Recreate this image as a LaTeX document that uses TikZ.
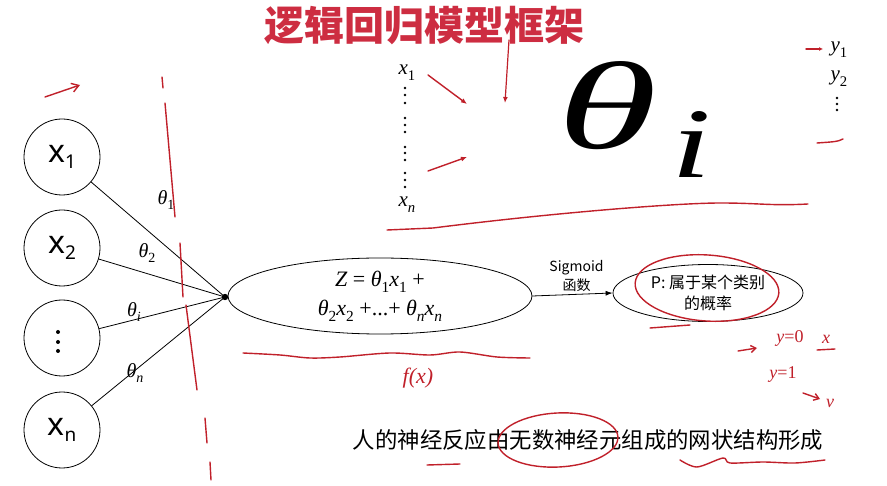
\documentclass[tikz,border=0pt]{standalone}
\usepackage{fontspec}
\setmainfont{Noto Sans}
\newfontfamily\cjk{Noto Sans CJK SC}
\newfontfamily\mf{Liberation Serif}
\usetikzlibrary{arrows.meta,shapes.geometric}
\definecolor{pen}{RGB}{192,32,42}
\definecolor{titlered}{RGB}{205,45,65}
\newcommand{\xsub}[2]{#1\raisebox{-6pt}{\fontsize{19}{19}\selectfont #2}}
\newcommand{\vi}[1]{{\mf\itshape #1}}
\newcommand{\lo}[1]{\raisebox{-0.28em}{\scalebox{0.7}{#1}}}
\begin{document}
\begin{tikzpicture}[x=1pt,y=-1pt,
  inp/.style={circle, draw, line width=0.8pt, minimum size=76pt, inner sep=0pt, font=\fontsize{32}{34}\selectfont},
  link/.style={line width=0.8pt},
  wlabel/.style={font=\mf\fontsize{20}{22}\selectfont, inner sep=1pt},
  zell/.style={ellipse, draw, line width=0.8pt, minimum width=304pt, minimum height=76pt, inner sep=0pt, align=center, font=\mf\fontsize{22}{29}\selectfont},
  pell/.style={ellipse, draw, line width=0.8pt, minimum width=190pt, minimum height=57pt, inner sep=0pt, align=center, font=\cjk\fontsize{16}{21}\selectfont},
  pen/.style={draw=pen, line width=1.4pt, line cap=round, line join=round},
  pentext/.style={text=pen, font=\mf\fontsize{18}{18}\selectfont, inner sep=0pt},
  mathlabel/.style={font=\mf\fontsize{21}{22}\selectfont, inner sep=0pt},
  bigglyph/.style={inner sep=0pt, font=\mf\itshape\fontsize{100}{100}\selectfont},
  dot/.style={circle, fill, inner sep=0pt, minimum size=2.8pt}
]
\useasboundingbox (0,0) rectangle (887,486);

% title
\node[font=\cjk\bfseries\fontsize{40}{40}\selectfont, text=titlered] (title) at (424,26) {逻辑回归模型框架};

% input circles
\node[inp] (c1) at (62,157) {\xsub{x}{1}};
\node[inp] (c2) at (62,248) {\xsub{x}{2}};
\node[inp] (c3) at (62,338) {};
\foreach \yy in {332,342,351}
  \node[dot, minimum size=4pt] at (58,\yy) {};
\node[inp] (c4) at (62,430) {\xsub{x}{n}};

\coordinate (hub) at (225,297);
\draw[link] (c1) -- (hub);
\draw[link] (c2) -- (hub);
\draw[link] (c3) -- (hub);
\draw[link] (c4) -- (hub);
\fill (hub) circle (3.2pt);

\node[wlabel] (t1) at (166,200) {\vi{θ}\lo{1}};
\node[wlabel] (t2) at (147,253) {\vi{θ}\lo{2}};
\node[wlabel] (ti) at (134,312) {\vi{θ}\lo{\vi{i}}};
\node[wlabel] (tn) at (135,373) {\vi{θ}\lo{\vi{n}}};

% Z ellipse
\node[zell] (z) at (380,296) {\vi{Z} = \vi{θ}\lo{1}\vi{x}\lo{1} +\\\vi{θ}\lo{2}\vi{x}\lo{2} +...+ \vi{θ}\lo{\vi{n}}\vi{x}\lo{\vi{n}}};
\node[pell] (p) at (708,293) {P: 属于某个类别\\的概率};
\draw[link, -{Latex[length=7pt,width=5pt]}] (z.east) -- (p.west)
  node[midway, above, align=center, inner sep=2pt, font=\cjk\fontsize{14}{19}\selectfont, xshift=4pt] (sig) {Sigmoid\\函数};

% x column
\node[mathlabel] (xa) at (407,73) {\vi{x}\lo{1}};
\node[mathlabel] (xb) at (407,205) {\vi{x}\lo{\vi{n}}};
\foreach \yy in {88,95,103,118,125,132,147,153,160,173,180,187}
  \node[dot, minimum size=2.6pt] at (405,\yy) {};

% big theta_i
\node[bigglyph] (bigt) at (607,106) {\resizebox{100pt}{87pt}{θ}};
\node[bigglyph] (bigi) at (691,145) {\resizebox{40pt}{66pt}{i}};

% y column
\node[mathlabel] (y1) at (839,50) {\vi{y}\lo{1}};
\node[mathlabel] (y2) at (839,79) {\vi{y}\lo{2}};
\foreach \yy in {98,104,110}
  \node[dot, minimum size=2.6pt] at (837,\yy) {};

% bottom sentence
\node[font=\cjk\fontsize{22.4}{24}\selectfont] (bt) at (588,440) {人的神经反应由无数神经元组成的网状结构形成};

% ---- red handwriting ----
\draw[pen, -{Straight Barb[length=7pt,width=9pt]}] (45,97) -- (80,85);
\draw[pen] (162,77) -- (163,88);
\draw[pen] (165,103) -- (175,217);
\draw[pen] (180,243) -- (183,297);
\draw[pen] (186,305) -- (197,390);
\draw[pen] (205,418) -- (207,443);
\draw[pen] (210,462) -- (211,480);

\draw[pen, -{Latex[length=6pt,width=5pt]}] (428,75) -- (467,104);
\draw[pen, -{Latex[length=6pt,width=5pt]}] (428,171) -- (467,157);
\draw[pen, line width=1.2pt, -{Latex[length=6pt,width=5pt]}] (509,40) -- (505,103);
\draw[pen, -{Latex[length=4pt,width=4pt]}] (806,49) -- (823,49);
\draw[pen] (817,143) .. controls (830,142) and (838,142) .. (843,139);

\draw[pen] (387,230) -- (433,228) .. controls (560,212) and (680,203) .. (720,203) .. controls (760,203) and (770,206) .. (808,204);

\draw[pen] plot[smooth] coordinates {(243,353) (280,355) (310,358) (340,357) (390,353) (430,355) (460,352) (497,357) (530,358)};
\node[pentext, font=\mf\itshape\fontsize{22}{22}\selectfont] (fx) at (418,378) {f(x)};

\draw[pen, rotate around={-4:(707,288)}] (707,288) ellipse (72 and 33);
\draw[pen] (650,328) -- (690,325);

\draw[pen, -{Straight Barb[length=5pt,width=7pt]}] (738,351) -- (757,348);
\node[pentext] (y0) at (790,338) {\vi{y}=0};
\node[pentext] (xx) at (826,339) {\vi{x}};
\draw[pen] (817,350) -- (835,349);
\node[pentext] (y1b) at (783,375) {\vi{y}=1};
\draw[pen, -{Straight Barb[length=5pt,width=7pt]}] (803,393) -- (820,399);
\node[pentext] (vv) at (830,403) {\vi{v}};

\draw[pen, rotate around={3:(558,440)}] (558,440) ellipse (60 and 27);
\draw[pen] (427,465) -- (460,464);
\draw[pen] plot[smooth] coordinates {(680,460) (697,467) (723,458) (730,463) (763,462) (795,463) (825,460)};
\end{tikzpicture}
\end{document}
